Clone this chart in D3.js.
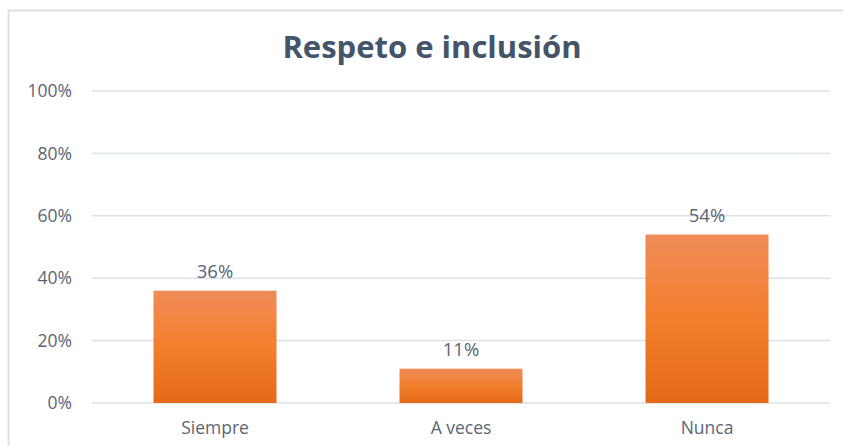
<!DOCTYPE html>
<html>
<head>
<meta charset="utf-8">
<script src="https://cdn.jsdelivr.net/npm/d3@7"></script>
<style>
  body { margin: 0; background: #fff; }
  svg { display: block; font-family: "Open Sans", sans-serif; }
</style>
</head>
<body>
<div id="dataviz"></div>
<script>
//----------------
// Data
//----------------
const categories = ["Siempre", "A veces", "Nunca"];
const values = [0.36, 0.11, 0.54];
const yTicks = [0, 0.2, 0.4, 0.6, 0.8, 1.0];
const title = "Respeto e inclusión";

//----------------
// Constants
//----------------
const width = 843, height = 446;
const margin = {top: 91, right: 13, bottom: 43, left: 92};
const textColor = "#5b6575";
const gridColor = "#dde1e7";

const svg = d3.select("#dataviz").append("svg")
  .attr("width", width)
  .attr("height", height);

// gradient for the bars
const grad = svg.append("defs").append("linearGradient")
  .attr("id", "barGrad")
  .attr("x1", 0).attr("y1", 0).attr("x2", 0).attr("y2", 1);
grad.append("stop").attr("offset", "0%").attr("stop-color", "#f08c58");
grad.append("stop").attr("offset", "50%").attr("stop-color", "#f37e2c");
grad.append("stop").attr("offset", "100%").attr("stop-color", "#e46a19");

// chart area border (only top/left visible in the picture)
svg.append("rect")
  .attr("x", 8.5).attr("y", 10.5)
  .attr("width", width).attr("height", height)
  .attr("fill", "none")
  .attr("stroke", gridColor)
  .attr("stroke-width", 2);

const x = d3.scaleBand()
  .domain(categories)
  .range([margin.left, width - margin.right])
  .paddingInner(0.5)
  .paddingOuter(0.25);

const y = d3.scaleLinear()
  .domain([0, 1])
  .range([height - margin.bottom, margin.top]);

// title
svg.append("text")
  .attr("x", 432)
  .attr("y", 58)
  .attr("text-anchor", "middle")
  .attr("font-size", 31)
  .attr("font-weight", "bold")
  .attr("fill", "#44546a")
  .text(title);

// grid lines
svg.append("g")
  .selectAll("line")
  .data(yTicks)
  .enter().append("line")
    .attr("x1", margin.left)
    .attr("x2", width - margin.right)
    .attr("y1", d => y(d))
    .attr("y2", d => y(d))
    .attr("stroke", gridColor)
    .attr("stroke-width", 1.5);

// y axis
const yAxis = svg.append("g")
  .attr("transform", "translate(" + margin.left + ",0)")
  .call(d3.axisLeft(y).tickValues(yTicks).tickFormat(d3.format(".0%")).tickSize(0).tickPadding(20));
yAxis.select(".domain").remove();
yAxis.selectAll("text")
  .attr("font-size", 17.5)
  .attr("font-family", "Open Sans, sans-serif")
  .attr("fill", textColor);

// x axis
const xAxis = svg.append("g")
  .attr("transform", "translate(0," + y(0) + ")")
  .call(d3.axisBottom(x).tickSize(0).tickPadding(19));
xAxis.select(".domain").remove();
xAxis.selectAll("text")
  .attr("font-size", 17.5)
  .attr("font-family", "Open Sans, sans-serif")
  .attr("fill", textColor);

// bars
svg.append("g")
  .selectAll("rect")
  .data(values)
  .enter().append("rect")
    .attr("x", (d, i) => x(categories[i]))
    .attr("y", d => y(d))
    .attr("width", x.bandwidth())
    .attr("height", d => y(0) - y(d))
    .attr("fill", "url(#barGrad)");

// value labels
svg.append("g")
  .selectAll("text")
  .data(values)
  .enter().append("text")
    .attr("x", (d, i) => x(categories[i]) + x.bandwidth() / 2)
    .attr("y", d => y(d) - 13)
    .attr("text-anchor", "middle")
    .attr("font-size", 18.5)
    .attr("fill", textColor)
    .text(d => d3.format(".0%")(d));
</script>
</body>
</html>
